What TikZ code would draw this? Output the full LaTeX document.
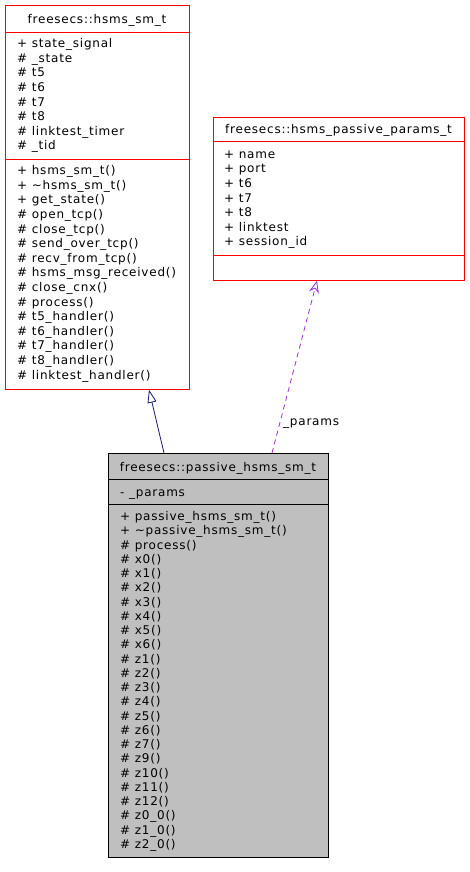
\documentclass[tikz,border=0pt]{standalone}
\usepackage{fontspec}
\newfontfamily\dfont{DejaVu Sans}[LetterSpace=6.5]
\usetikzlibrary{arrows.meta,calc}
\definecolor{inhcol}{HTML}{191970}
\definecolor{usecol}{HTML}{9A32CD}
\definecolor{boxgray}{HTML}{BFBFBF}
\begin{document}
\begin{tikzpicture}[x=1pt,y=-1pt,
  txt/.style={anchor=base west, inner sep=0pt, font=\dfont\fontsize{12}{14}\selectfont, text=black},
  ttl/.style={anchor=base, inner sep=0pt, font=\dfont\fontsize{12}{14}\selectfont, text=black},
  redbox/.style={draw=red, line width=0.8pt, anchor=north west, inner sep=0pt, fill=white},
  graybox/.style={draw=black, line width=0.8pt, anchor=north west, inner sep=0pt, fill=boxgray},
  inh/.style={draw=inhcol, line width=0.8pt, -{Triangle[open, length=13pt, width=9pt]}},
  usage/.style={draw=usecol, line width=0.8pt, dash pattern=on 5pt off 4pt, -{Stealth[open, length=12pt, width=10pt, inset=4pt]}}]
\useasboundingbox (0,0) rectangle (469,872);
\fill[white] (0,0) rectangle (469,872);

% Box A
\node[redbox, minimum width=184pt, minimum height=384pt] (A) at (5,5) {};
\draw[red, line width=0.8pt] ($(A.north west)+(0,27)$) -- ($(A.north east)+(0,27)$);
\draw[red, line width=0.8pt] ($(A.north west)+(0,154)$) -- ($(A.north east)+(0,154)$);
\node[ttl] (tA) at (97,24) {freesecs::hsms\_sm\_t};
\foreach \t [count=\i from 0] in {+ state\_signal, \# \_state, \# t5, \# t6, \# t7, \# t8, \# linktest\_timer, \# \_tid}
  \node[txt] (aa\i) at (17,47.7+\i*14.6) {\t};
\foreach \t [count=\i from 0] in {+ hsms\_sm\_t(), + \textasciitilde hsms\_sm\_t(), + get\_state(), \# open\_tcp(), \# close\_tcp(), \# send\_over\_tcp(), \# recv\_from\_tcp(), \# hsms\_msg\_received(), \# close\_cnx(), \# process(), \# t5\_handler(), \# t6\_handler(), \# t7\_handler(), \# t8\_handler(), \# linktest\_handler()}
  \node[txt] (am\i) at (17,174.7+\i*14.6) {\t};

% Box B
\node[redbox, minimum width=251pt, minimum height=163pt] (B) at (213,117) {};
\draw[red, line width=0.8pt] ($(B.north west)+(0,24.5)$) -- ($(B.north east)+(0,24.5)$);
\draw[red, line width=0.8pt] ($(B.north west)+(0,138)$) -- ($(B.north east)+(0,138)$);
\node[ttl] (tB) at (338.5,133.5) {freesecs::hsms\_passive\_params\_t};
\foreach \t [count=\i from 0] in {+ name, + port, + t6, + t7, + t8, + linktest, + session\_id}
  \node[txt] (ba\i) at (224,158.3+\i*14.6) {\t};

% Box C
\node[graybox, minimum width=220pt, minimum height=404pt] (C) at (108,453) {};
\draw[black, line width=0.8pt] ($(C.north west)+(0,26)$) -- ($(C.north east)+(0,26)$);
\draw[black, line width=0.8pt] ($(C.north west)+(0,51)$) -- ($(C.north east)+(0,51)$);
\node[ttl] (tC) at (218,471.5) {freesecs::passive\_hsms\_sm\_t};
\node[txt] (ca0) at (120,496) {- \_params};
\foreach \t [count=\i from 0] in {+ passive\_hsms\_sm\_t(), + \textasciitilde passive\_hsms\_sm\_t(), \# process(), \# x0(), \# x1(), \# x2(), \# x3(), \# x4(), \# x5(), \# x6(), \# z1(), \# z2(), \# z3(), \# z4(), \# z5(), \# z6(), \# z7(), \# z9(), \# z10(), \# z11(), \# z12(), \# z0\_0(), \# z1\_0(), \# z2\_0()}
  \node[txt] (cm\i) at (120,520.7+\i*14.25) {\t};

% Connectors
\draw[inh] ($(C.north west)+(56,0)$) -- ($(A.south west)+(144,0)$);
\draw[usage] ($(C.north west)+(164,0)$) -- ($(B.south west)+(104,0)$);
\node[txt] (lp) at (283,425) {\_params};
\end{tikzpicture}
\end{document}
